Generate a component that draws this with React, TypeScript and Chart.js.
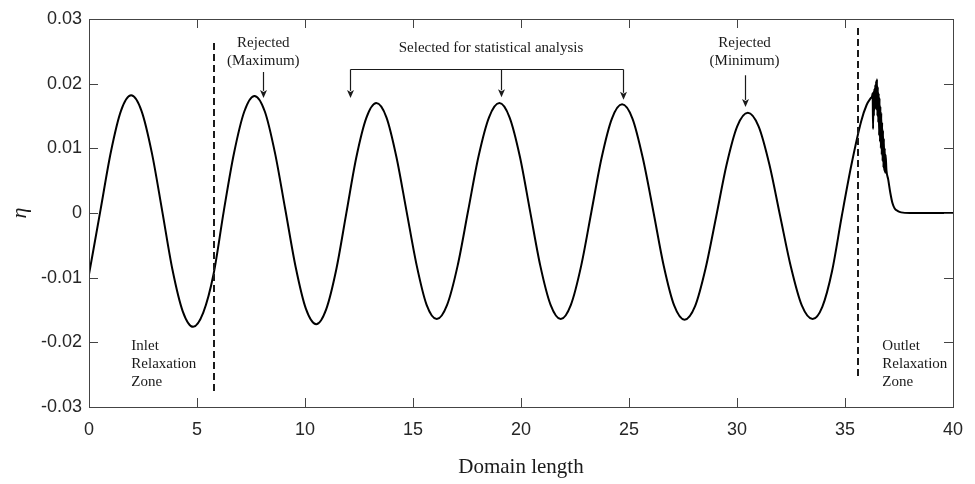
import React, { useEffect, useRef } from "react";
import { Chart, registerables } from "chart.js";

Chart.register(...registerables);

// Free-surface elevation along the numerical flume
const domainX = [
  0, 0.54, 1.01, 1.48, 1.95, 2.43, 2.91, 3.39, 3.86, 4.34,
  4.82, 5.29, 5.77, 6.24, 6.71, 7.19, 7.66, 8.14, 8.61, 9.09,
  9.57, 10.04, 10.52, 10.98, 11.45, 11.91, 12.37, 12.84, 13.3, 13.77,
  14.23, 14.7, 15.17, 15.63, 16.1, 16.58, 17.07, 17.55, 18.03, 18.52,
  19.0, 19.47, 19.95, 20.42, 20.89, 21.37, 21.84, 22.31, 22.79, 23.26,
  23.73, 24.21, 24.68, 25.16, 25.64, 26.13, 26.61, 27.09, 27.57, 28.06,
  28.55, 29.04, 29.52, 30.01, 30.5, 31.0, 31.5, 32.0, 32.5, 33.0,
  33.5, 33.95, 34.4, 34.85, 35.3, 35.75, 36.0, 36.2,
  36.25, 36.28, 36.3, 36.32, 36.34, 36.36, 36.38, 36.4, 36.42, 36.44,
  36.46, 36.48, 36.5, 36.52, 36.54, 36.56, 36.58, 36.6, 36.62, 36.64,
  36.66, 36.68, 36.7, 36.72, 36.74, 36.76, 36.78, 36.8, 36.82, 36.84,
  36.86, 36.88, 36.92, 37.0, 37.1, 37.2, 37.3, 37.45, 37.6, 38.0,
  39.0, 40.0,
];

const eta = [
  -0.0095, 0.0006, 0.0094, 0.0158, 0.0182, 0.0158, 0.0093, 0.0003, -0.0087, -0.0152,
  -0.0176, -0.0154, -0.0094, 0.0003, 0.0092, 0.0157, 0.0181, 0.0157, 0.0093, 0.0005,
  -0.0084, -0.0148, -0.0172, -0.0149, -0.0087, -0.0001, 0.0085, 0.0147, 0.017, 0.0148,
  0.0087, 0.0003, -0.0081, -0.0142, -0.0164, -0.0142, -0.0081, 0.0003, 0.0087, 0.0148,
  0.017, 0.0148, 0.0087, 0.0003, -0.0081, -0.0142, -0.0164, -0.0142, -0.0081, 0.0002,
  0.0085, 0.0146, 0.0168, 0.0146, 0.0085, 0.0002, -0.0082, -0.0143, -0.0165, -0.0144,
  -0.0085, -0.0005, 0.0075, 0.0134, 0.0155, 0.0134, 0.0075, -0.0005, -0.0084, -0.0143,
  -0.0164, -0.0145, -0.009, -0.0005, 0.0075, 0.0142, 0.0167, 0.0178,
  0.018, 0.0185, 0.013, 0.0188, 0.015, 0.0192, 0.016, 0.0198, 0.0165, 0.0204,
  0.016, 0.0207, 0.015, 0.0195, 0.014, 0.0185, 0.012, 0.0178, 0.011, 0.0165,
  0.01, 0.0155, 0.009, 0.014, 0.008, 0.0128, 0.007, 0.0115, 0.0065, 0.01,
  0.0062, 0.009, 0.0066, 0.0052, 0.0031, 0.0015, 0.0007, 0.0003, 0.0001, 0,
  0, 0,
];

const xTickValues = [0, 5, 10, 15, 20, 25, 30, 35, 40];
const yTickValues = [-0.03, -0.02, -0.01, 0, 0.01, 0.02, 0.03];
const yTickLabels = ["-0.03", "-0.02", "-0.01", "0", "0.01", "0.02", "0.03"];

// Relaxation-zone boundaries: [x, yTop, yBottom]
const zoneBoundaries = [
  [5.77, 0.0263, -0.0277],
  [35.62, 0.0286, -0.0255],
];

// Text notes: [x, y, text, align]
const notes: [number, number, string, CanvasTextAlign][] = [
  [8.07, 0.0263, "Rejected", "center"],
  [8.07, 0.0235, "(Maximum)", "center"],
  [30.35, 0.0263, "Rejected", "center"],
  [30.35, 0.0235, "(Minimum)", "center"],
  [18.61, 0.0255, "Selected for statistical analysis", "center"],
  [1.96, -0.0206, "Inlet", "left"],
  [1.96, -0.0234, "Relaxation", "left"],
  [1.96, -0.0261, "Zone", "left"],
  [36.73, -0.0206, "Outlet", "left"],
  [36.73, -0.0234, "Relaxation", "left"],
  [36.73, -0.0261, "Zone", "left"],
];

// Single arrows: [x, yFrom, yTo]
const singleArrows = [
  [8.07, 0.0218, 0.0178],
  [30.35, 0.0213, 0.0164],
];

// Bracket of the selected crests
const bracketY = 0.0222;
const bracketArrowX = [12.1, 19.08, 24.72];
const bracketArrowTip = [0.0178, 0.0179, 0.0175];

const INK = "#1a1a1a";

function arrow(ctx: CanvasRenderingContext2D, px: number, y0: number, y1: number) {
  const head = 8;
  ctx.beginPath();
  ctx.moveTo(px, y0);
  ctx.lineTo(px, y1 - head + 1);
  ctx.stroke();
  ctx.beginPath();
  ctx.moveTo(px, y1);
  ctx.lineTo(px - 3.5, y1 - head);
  ctx.lineTo(px, y1 - head + 2);
  ctx.lineTo(px + 3.5, y1 - head);
  ctx.closePath();
  ctx.fill();
}

const decorations = {
  id: "decorations",
  afterDatasetsDraw(chart: any) {
    const { ctx, chartArea: a, scales } = chart;
    const sx = scales.x;
    const sy = scales.y;
    ctx.save();

    // axes box with inward ticks on all sides
    ctx.strokeStyle = "#444";
    ctx.lineWidth = 1;
    ctx.setLineDash([]);
    ctx.strokeRect(Math.round(a.left) + 0.5, Math.round(a.top) + 0.5, Math.round(a.right - a.left), Math.round(a.bottom - a.top));
    const tl = 9;
    ctx.beginPath();
    xTickValues.forEach((v) => {
      const px = Math.round(sx.getPixelForValue(v)) + 0.5;
      ctx.moveTo(px, a.bottom);
      ctx.lineTo(px, a.bottom - tl);
      ctx.moveTo(px, a.top);
      ctx.lineTo(px, a.top + tl);
    });
    yTickValues.forEach((v) => {
      const py = Math.round(sy.getPixelForValue(v)) + 0.5;
      ctx.moveTo(a.left, py);
      ctx.lineTo(a.left + tl, py);
      ctx.moveTo(a.right, py);
      ctx.lineTo(a.right - tl, py);
    });
    ctx.stroke();

    // relaxation zone boundaries
    ctx.strokeStyle = INK;
    ctx.lineWidth = 2;
    ctx.setLineDash([7, 4]);
    zoneBoundaries.forEach(([x, y0, y1]) => {
      const px = Math.round(sx.getPixelForValue(x));
      ctx.beginPath();
      ctx.moveTo(px, sy.getPixelForValue(y0));
      ctx.lineTo(px, sy.getPixelForValue(y1));
      ctx.stroke();
    });
    ctx.setLineDash([]);

    // notes
    ctx.fillStyle = INK;
    ctx.font = '15px "Liberation Serif"';
    ctx.textBaseline = "middle";
    notes.forEach(([x, y, text, align]) => {
      ctx.textAlign = align;
      ctx.fillText(text, sx.getPixelForValue(x), sy.getPixelForValue(y));
    });

    // arrows
    ctx.lineWidth = 1.2;
    ctx.strokeStyle = INK;
    singleArrows.forEach(([x, y0, y1]) => {
      arrow(ctx, Math.round(sx.getPixelForValue(x)) + 0.5, sy.getPixelForValue(y0), sy.getPixelForValue(y1));
    });
    const by = Math.round(sy.getPixelForValue(bracketY)) + 0.5;
    ctx.beginPath();
    ctx.moveTo(Math.round(sx.getPixelForValue(bracketArrowX[0])) + 0.5, by);
    ctx.lineTo(Math.round(sx.getPixelForValue(bracketArrowX[bracketArrowX.length - 1])) + 0.5, by);
    ctx.stroke();
    bracketArrowX.forEach((x, i) => {
      arrow(ctx, Math.round(sx.getPixelForValue(x)) + 0.5, by, sy.getPixelForValue(bracketArrowTip[i]));
    });

    // axis titles
    ctx.fillStyle = INK;
    ctx.textAlign = "center";
    ctx.textBaseline = "middle";
    ctx.font = '21px "Liberation Serif"';
    ctx.fillText("Domain length", (a.left + a.right) / 2, 467);
    ctx.save();
    ctx.translate(20, (a.top + a.bottom) / 2);
    ctx.rotate(-Math.PI / 2);
    ctx.font = 'italic 22px "Liberation Serif"';
    ctx.fillText("η", 0, 0);
    ctx.restore();

    ctx.restore();
  },
};

export default function App() {
  const canvasRef = useRef<HTMLCanvasElement | null>(null);

  useEffect(() => {
    const canvas = canvasRef.current;
    if (!canvas) return;
    const points = domainX.map((x, i) => ({ x, y: eta[i] }));
    const tickFont = { family: '"Liberation Sans", Arial, sans-serif', size: 18 };
    const chart = new Chart(canvas, {
      type: "line",
      data: {
        datasets: [
          {
            data: points,
            borderColor: "#000",
            borderWidth: 2,
            pointRadius: 0,
            cubicInterpolationMode: "monotone",
            fill: false,
          },
        ],
      },
      options: {
        responsive: false,
        animation: false,
        layout: { padding: { top: 19, right: 13, left: 0, bottom: 0 } },
        plugins: { legend: { display: false }, tooltip: { enabled: false } },
        scales: {
          x: {
            type: "linear",
            min: 0,
            max: 40,
            grid: { display: false, drawTicks: false },
            border: { display: false },
            ticks: {
              stepSize: 5,
              font: tickFont,
              color: "#262626",
              padding: 12,
              maxRotation: 0,
              callback: (v: any) => String(v),
            },
            afterFit: (s: any) => {
              s.height = 77;
            },
          },
          y: {
            type: "linear",
            min: -0.03,
            max: 0.03,
            grid: { display: false, drawTicks: false },
            border: { display: false },
            ticks: {
              stepSize: 0.01,
              font: tickFont,
              color: "#262626",
              padding: 7,
              callback: (_v: any, i: number) => yTickLabels[i],
            },
            afterFit: (s: any) => {
              s.width = 89;
            },
          },
        },
      },
      plugins: [decorations],
    });
    return () => chart.destroy();
  }, []);

  return (
    <div style={{ position: "fixed", left: 0, top: 0, width: 975, height: 484, background: "#fff" }}>
      <canvas ref={canvasRef} width={975} height={484} />
    </div>
  );
}
